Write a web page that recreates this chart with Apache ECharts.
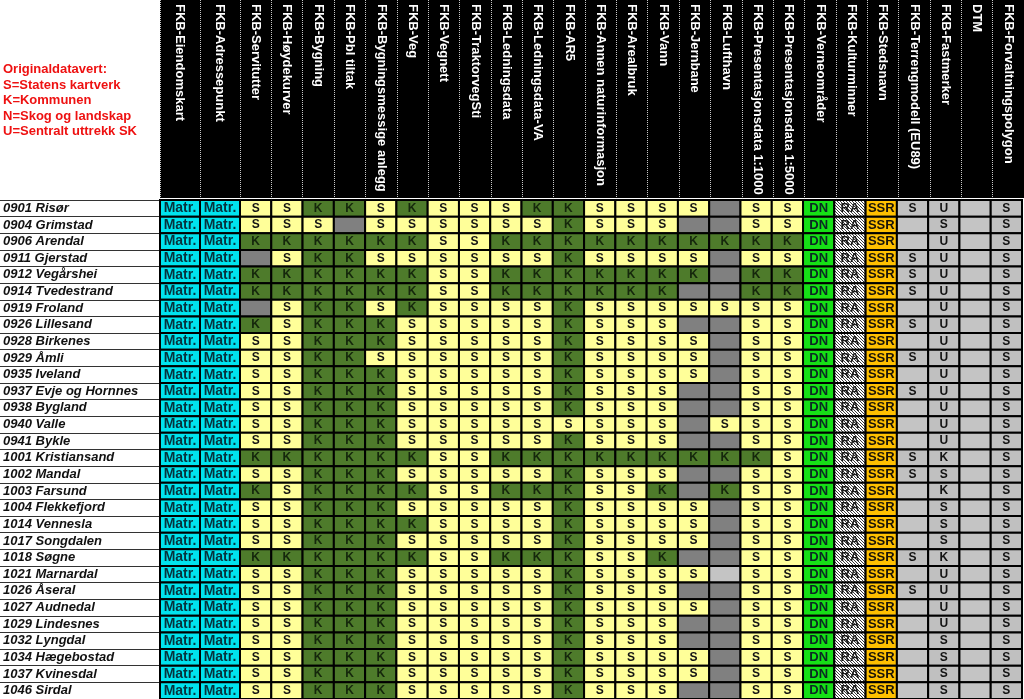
<!DOCTYPE html>
<html>
<head>
<meta charset="utf-8">
<script src="https://cdn.jsdelivr.net/npm/echarts@6/dist/echarts.min.js"></script>
<style>
html,body{margin:0;padding:0;background:#fff;}
#chart{width:1024px;height:699px;}
</style>
</head>
<body>
<div id="chart"></div>
<script>
// ---------- DATA ----------
const legendLines = [
  'Originaldatavert:',
  'S=Statens kartverk',
  'K=Kommunen',
  'N=Skog og landskap',
  'U=Sentralt uttrekk SK'
];

const layers = [
  'FKB-Eiendomskart', 'FKB-Adressepunkt', 'FKB-Servitutter', 'FKB-Høydekurver',
  'FKB-Bygning', 'FKB-Pbl tiltak', 'FKB-Bygningsmessige anlegg', 'FKB-Veg',
  'FKB-Vegnett', 'FKB-TraktorvegSti', 'FKB-Ledningsdata', 'FKB-Ledningsdata-VA',
  'FKB-AR5', 'FKB-Annen naturinformasjon', 'FKB-Arealbruk', 'FKB-Vann',
  'FKB-Jernbane', 'FKB-Lufthavn', 'FKB-Presentasjonsdata 1:1000',
  'FKB-Presentasjonsdata 1:5000', 'FKB-Verneområder', 'FKB-Kulturminner',
  'FKB-Stedsnavn', 'FKB-Terrengmodell (EU89)', 'FKB-Fastmerker', 'DTM',
  'FKB-Forvaltningspolygon'
];

const municipalities = [
  '0901 Risør', '0904 Grimstad', '0906 Arendal', '0911 Gjerstad', '0912 Vegårshei',
  '0914 Tvedestrand', '0919 Froland', '0926 Lillesand', '0928 Birkenes', '0929 Åmli',
  '0935 Iveland', '0937 Evje og Hornnes', '0938 Bygland', '0940 Valle', '0941 Bykle',
  '1001 Kristiansand', '1002 Mandal', '1003 Farsund', '1004 Flekkefjord', '1014 Vennesla',
  '1017 Songdalen', '1018 Søgne', '1021 Marnardal', '1026 Åseral', '1027 Audnedal',
  '1029 Lindesnes', '1032 Lyngdal', '1034 Hægebostad', '1037 Kvinesdal', '1046 Sirdal'
];

// One entry per municipality, one code per layer.
// '-' = no data (dark cell), '_' = empty cell
const rows = [
  'Matr. Matr. S S K K S K S S S K K S S S S - S S DN RA SSR S U _ S',
  'Matr. Matr. S S S - S S S S S S K S S S - - S S DN RA SSR _ S _ S',
  'Matr. Matr. K K K K K K S S K K K K K K K K K K DN RA SSR _ U _ S',
  'Matr. Matr. - S K K S S S S S S K S S S S - S S DN RA SSR S U _ S',
  'Matr. Matr. K K K K K K S S K K K K K K K - K K DN RA SSR S U _ S',
  'Matr. Matr. K K K K K K S S K K K K K K - - K K DN RA SSR S U _ S',
  'Matr. Matr. - S K K S K S S S S K S S S S S S S DN RA SSR _ U _ S',
  'Matr. Matr. K S K K K S S S S S K S S S - - S S DN RA SSR S U _ S',
  'Matr. Matr. S S K K K S S S S S K S S S S - S S DN RA SSR _ U _ S',
  'Matr. Matr. S S K K S S S S S S K S S S S - S S DN RA SSR S U _ S',
  'Matr. Matr. S S K K K S S S S S K S S S S - S S DN RA SSR _ U _ S',
  'Matr. Matr. S S K K K S S S S S K S S S - - S S DN RA SSR S U _ S',
  'Matr. Matr. S S K K K S S S S S K S S S - - S S DN RA SSR _ U _ S',
  'Matr. Matr. S S K K K S S S S S S S S S - S S S DN RA SSR _ U _ S',
  'Matr. Matr. S S K K K S S S S S K S S S - - S S DN RA SSR _ U _ S',
  'Matr. Matr. K K K K K K S S K K K K K K K K K S DN RA SSR S K _ S',
  'Matr. Matr. S S K K K S S S S S K S S S - - S S DN RA SSR S S _ S',
  'Matr. Matr. K S K K K K S S K K K S S K - K S S DN RA SSR _ K _ S',
  'Matr. Matr. S S K K K S S S S S K S S S S - S S DN RA SSR _ S _ S',
  'Matr. Matr. S S K K K K S S S S K S S S S - S S DN RA SSR _ S _ S',
  'Matr. Matr. S S K K K S S S S S K S S S S - S S DN RA SSR _ S _ S',
  'Matr. Matr. K K K K K K S S K K K S S K - - S S DN RA SSR S K _ S',
  'Matr. Matr. S S K K K S S S S S K S S S S _ S S DN RA SSR _ U _ S',
  'Matr. Matr. S S K K K S S S S S K S S S - - S S DN RA SSR S U _ S',
  'Matr. Matr. S S K K K S S S S S K S S S S - S S DN RA SSR _ U _ S',
  'Matr. Matr. S S K K K S S S S S K S S S - - S S DN RA SSR _ U _ S',
  'Matr. Matr. S S K K K S S S S S K S S S - - S S DN RA SSR _ S _ S',
  'Matr. Matr. S S K K K S S S S S K S S S S - S S DN RA SSR _ S _ S',
  'Matr. Matr. S S K K K S S S S S K S S S S - S S DN RA SSR _ S _ S',
  'Matr. Matr. S S K K K S S S S S K S S S - - S S DN RA SSR _ S _ S'
];
const cells = rows.map(r => r.split(' '));

// ---------- STYLE ----------
const FONT = '"Liberation Sans", Arial, sans-serif';
const SPLIT = 2; // first two layer columns are wider
const GREY_FROM = 23; // last columns drawn on grey

function hatch() {
  const c = document.createElement('canvas');
  c.width = 3; c.height = 3;
  const g = c.getContext('2d');
  g.fillStyle = '#ffffff'; g.fillRect(0, 0, 3, 3);
  g.fillStyle = '#3a3a3a';
  for (let i = 0; i < 3; i++) g.fillRect(i, i, 1, 1);
  return c;
}
const hatchPattern = { image: hatch(), repeat: 'repeat' };

function cellStyle(code, col) {
  const grey = col >= GREY_FROM;
  const s = { text: code, fill: '#c0c0c0', color: '#141414', font: 'bold 12px ' + FONT, border: null };
  if (code === 'Matr.') { s.fill = '#00e3ee'; s.color = '#07323c'; s.font = 'bold 14px ' + FONT; }
  else if (code === '-') { s.fill = '#808080'; s.text = ''; }
  else if (code === '_') { s.fill = '#c4c4c4'; s.text = ''; }
  else if (code === 'DN') { s.fill = '#16e016'; s.color = '#0b2a24'; s.font = 'bold 13px ' + FONT; }
  else if (code === 'RA') { s.fill = hatchPattern; s.color = '#1a1a1a'; s.border = '#ffffff'; s.font = 'bold 13px ' + FONT; }
  else if (code === 'SSR') { s.fill = '#ffc000'; s.color = '#1a1408'; s.font = 'bold 13px ' + FONT; }
  else if (grey) { s.fill = '#c0c0c0'; }
  else if (code === 'S') { s.fill = '#ffff99'; }
  else if (code === 'K') { s.fill = '#4e7b2b'; s.color = '#15270c'; }
  return s;
}

function makeRender(offset) {
  return function (params, api) {
    const xi = api.value(0), yi = api.value(1);
    const col = xi + offset;
    const st = cellStyle(cells[yi][col], col);
    const c = api.coord([xi, yi]);
    const sz = api.size([1, 1]);
    const text = { text: st.text, fill: st.color, font: st.font };
    if (st.border) { text.textBorderColor = st.border; text.textBorderWidth = 1.5; }
    return {
      type: 'rect',
      shape: { x: c[0] - sz[0] / 2, y: c[1] - sz[1] / 2, width: sz[0], height: sz[1] },
      style: { fill: st.fill, stroke: '#000', lineWidth: 2 },
      textContent: { style: text },
      textConfig: { position: 'inside' }
    };
  };
}

function seriesData(from, to) {
  const d = [];
  for (let y = 0; y < municipalities.length; y++)
    for (let x = from; x < to; x++) d.push([x - from, y]);
  return d;
}

const headLabel = {
  show: true, inside: true, rotate: -90, margin: 4, interval: 0,
  color: '#ffffff', fontWeight: 'bold', fontSize: 13, fontFamily: FONT
};
const headSplit = { show: true, interval: 0, lineStyle: { type: 'dotted', color: '#c8c8c8', width: 1 } };

const BODY_TOP = 200, BODY_H = 500;

const option = {
  animation: false,
  backgroundColor: '#ffffff',
  title: {
    text: legendLines.join('\n'),
    left: 3, top: 62, padding: 0,
    textStyle: { color: '#ee1111', fontSize: 13, fontWeight: 'bold', fontFamily: FONT, lineHeight: 15.5 }
  },
  grid: [
    { left: 0, top: BODY_TOP, width: 160, height: BODY_H, show: false },
    { left: 160, top: 0, width: 80, height: 198, show: true, backgroundColor: '#000', borderWidth: 0 },
    { left: 240, top: 0, width: 784, height: 198, show: true, backgroundColor: '#000', borderWidth: 0 },
    { left: 160, top: BODY_TOP, width: 80, height: BODY_H },
    { left: 240, top: BODY_TOP, width: 782, height: BODY_H }
  ],
  xAxis: [
    { gridIndex: 0, type: 'value', min: 0, max: 1, show: false },
    { gridIndex: 1, type: 'category', position: 'top', data: layers.slice(0, SPLIT),
      axisLine: { show: false }, axisTick: { show: false }, axisLabel: headLabel, splitLine: headSplit },
    { gridIndex: 2, type: 'category', position: 'top', data: layers.slice(SPLIT),
      axisLine: { show: false }, axisTick: { show: false }, axisLabel: headLabel, splitLine: headSplit },
    { gridIndex: 3, type: 'category', data: layers.slice(0, SPLIT), show: false },
    { gridIndex: 4, type: 'category', data: layers.slice(SPLIT), show: false }
  ],
  yAxis: [
    { gridIndex: 0, type: 'category', inverse: true, data: municipalities,
      axisLine: { show: false }, axisTick: { show: false },
      axisLabel: { inside: true, margin: 3, interval: 0, color: '#111', fontSize: 13,
        fontWeight: 'bold', fontStyle: 'italic', fontFamily: FONT },
      splitLine: { show: true, interval: 0, lineStyle: { color: '#333', width: 1 } } },
    { gridIndex: 1, type: 'value', show: false },
    { gridIndex: 2, type: 'value', show: false },
    { gridIndex: 3, type: 'category', inverse: true, data: municipalities, show: false },
    { gridIndex: 4, type: 'category', inverse: true, data: municipalities, show: false }
  ],
  series: [
    { type: 'custom', xAxisIndex: 3, yAxisIndex: 3, renderItem: makeRender(0),
      data: seriesData(0, SPLIT), clip: false },
    { type: 'custom', xAxisIndex: 4, yAxisIndex: 4, renderItem: makeRender(SPLIT),
      data: seriesData(SPLIT, layers.length), clip: false }
  ]
};

const chart = echarts.init(document.getElementById('chart'), null, { renderer: 'canvas' });
chart.setOption(option);
</script>
</body>
</html>
